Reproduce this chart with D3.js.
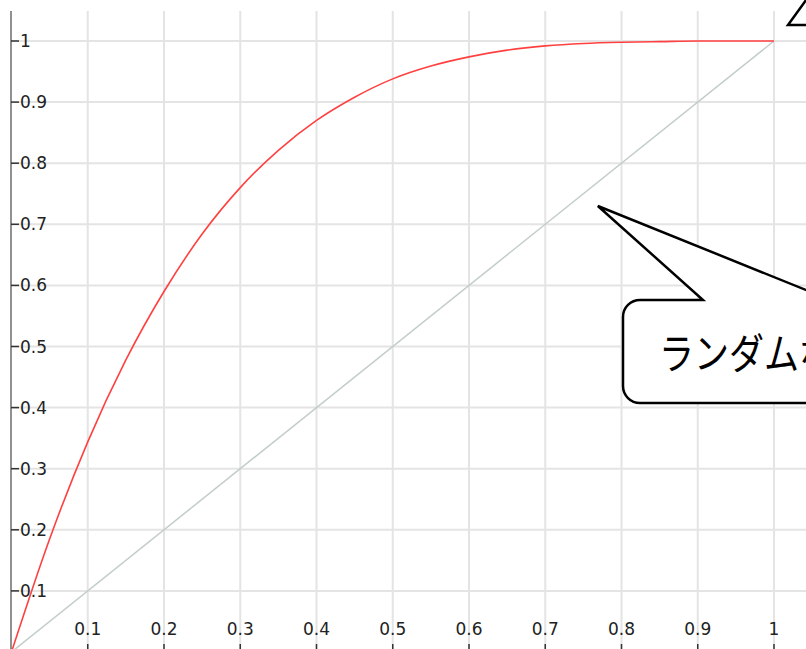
<!DOCTYPE html>
<html><head><meta charset="utf-8">
<script src="https://cdn.jsdelivr.net/npm/d3@7"></script>
<style>
html,body{margin:0;padding:0;background:#fff;overflow:hidden}
svg{display:block}
</style></head>
<body>
<svg id="c" width="806" height="649"></svg>
<script>
// ---- data ----
const xTicks = [0.1,0.2,0.3,0.4,0.5,0.6,0.7,0.8,0.9,1];
const yTicks = [0.1,0.2,0.3,0.4,0.5,0.6,0.7,0.8,0.9,1];
const curveX = [0,0.05,0.1,0.15,0.2,0.25,0.3,0.35,0.4,0.45,0.5,0.55,0.6,0.65,0.7,0.75,0.8,0.85,0.9,0.95,1];
const curveY = [0,0.185,0.344,0.478,0.590,0.684,0.760,0.821,0.870,0.908,0.938,0.959,0.974,0.985,0.992,0.996,0.998,0.999,1,1,1];
const diagX = [0,1];
const diagY = [0,1];
const calloutText = "ランダムなモデル";
const calloutTip = [0.769, 0.73];

(function(){
// ---- scales ----
const x = d3.scaleLinear().domain([0,1]).range([11.5,774]);
const y = d3.scaleLinear().domain([0,1]).range([652,41]);
const svg = d3.select("#c");
const W = 806, plotTop = 11, plotBottom = 649;

// grid
const g = svg.append("g");
g.selectAll("line.v").data(xTicks).join("line").attr("class","v")
  .attr("x1",d=>x(d)).attr("x2",d=>x(d)).attr("y1",plotTop).attr("y2",plotBottom+5)
  .attr("stroke","#e4e4e4").attr("stroke-width",2);
g.selectAll("line.h").data(yTicks).join("line").attr("class","h")
  .attr("x1",x(0)).attr("x2",W+5).attr("y1",d=>y(d)).attr("y2",d=>y(d))
  .attr("stroke","#e4e4e4").attr("stroke-width",2);

// diagonal
svg.append("path").datum(diagX.map((v,i)=>[v,diagY[i]]))
  .attr("d",d3.line().x(d=>x(d[0])).y(d=>y(d[1])))
  .attr("fill","none").attr("stroke","#c3cdca").attr("stroke-width",1.5);

// red curve
svg.append("path").datum(curveX.map((v,i)=>[v,curveY[i]]))
  .attr("d",d3.line().x(d=>x(d[0])).y(d=>y(d[1])).curve(d3.curveMonotoneX))
  .attr("fill","none").attr("stroke","#ff4040").attr("stroke-width",1.6);

// y axis
svg.append("line").attr("x1",11).attr("x2",11).attr("y1",plotTop).attr("y2",plotBottom)
  .attr("stroke","#555").attr("stroke-width",1.3);
const ya = svg.append("g");
ya.selectAll("line").data(yTicks).join("line")
  .attr("x1",11).attr("x2",19).attr("y1",d=>y(d)).attr("y2",d=>y(d))
  .attr("stroke","#333").attr("stroke-width",1.5);
ya.selectAll("text").data(yTicks).join("text")
  .attr("x",20).attr("y",d=>y(d)+6)
  .attr("font-family","DejaVu Sans").attr("font-size",17).attr("fill","#222")
  .text(d=>d3.format("~g")(d));

// x axis ticks
const xa = svg.append("g");
xa.selectAll("line").data(xTicks).join("line")
  .attr("x1",d=>x(d)).attr("x2",d=>x(d)).attr("y1",644).attr("y2",652)
  .attr("stroke","#333").attr("stroke-width",1.5);
xa.selectAll("text").data(xTicks).join("text")
  .attr("x",d=>x(d)).attr("y",635).attr("text-anchor","middle")
  .attr("font-family","DejaVu Sans").attr("font-size",17).attr("fill","#222")
  .text(d=>d3.format("~g")(d));

// callout (lower)
const tx = x(calloutTip[0]), ty = y(calloutTip[1]);
const bx = 623, byTop = 300, byBot = 403, r = 17, bxR = 1100;
const baseL = 703, slope = (290-ty)/(806-tx), baseR = tx + (byTop-ty)/slope;
const p = d3.path();
p.moveTo(bx+r, byTop);
p.lineTo(baseL, byTop);
p.lineTo(tx, ty);
p.lineTo(baseR, byTop);
p.lineTo(bxR, byTop);
p.lineTo(bxR, byBot);
p.lineTo(bx+r, byBot);
p.arcTo(bx, byBot, bx, byBot-r, r);
p.lineTo(bx, byTop+r);
p.arcTo(bx, byTop, bx+r, byTop, r);
p.closePath();
svg.append("path").attr("d",p.toString()).attr("fill","#fff").attr("stroke","#000").attr("stroke-width",2.5).attr("stroke-linejoin","miter");
svg.append("text").attr("transform","translate(659,369) scale(1,1.2)")
  .attr("font-family","Noto Sans CJK JP").attr("font-size",35).attr("fill","#000")
  .text(calloutText);

// callout (upper, tail only visible)
const p2 = d3.path();
p2.moveTo(809,-4); p2.lineTo(788,25); p2.lineTo(830,25);
svg.append("path").attr("d",p2.toString()).attr("fill","#fff").attr("stroke","#000").attr("stroke-width",2.5);
})();
</script>
</body></html>
